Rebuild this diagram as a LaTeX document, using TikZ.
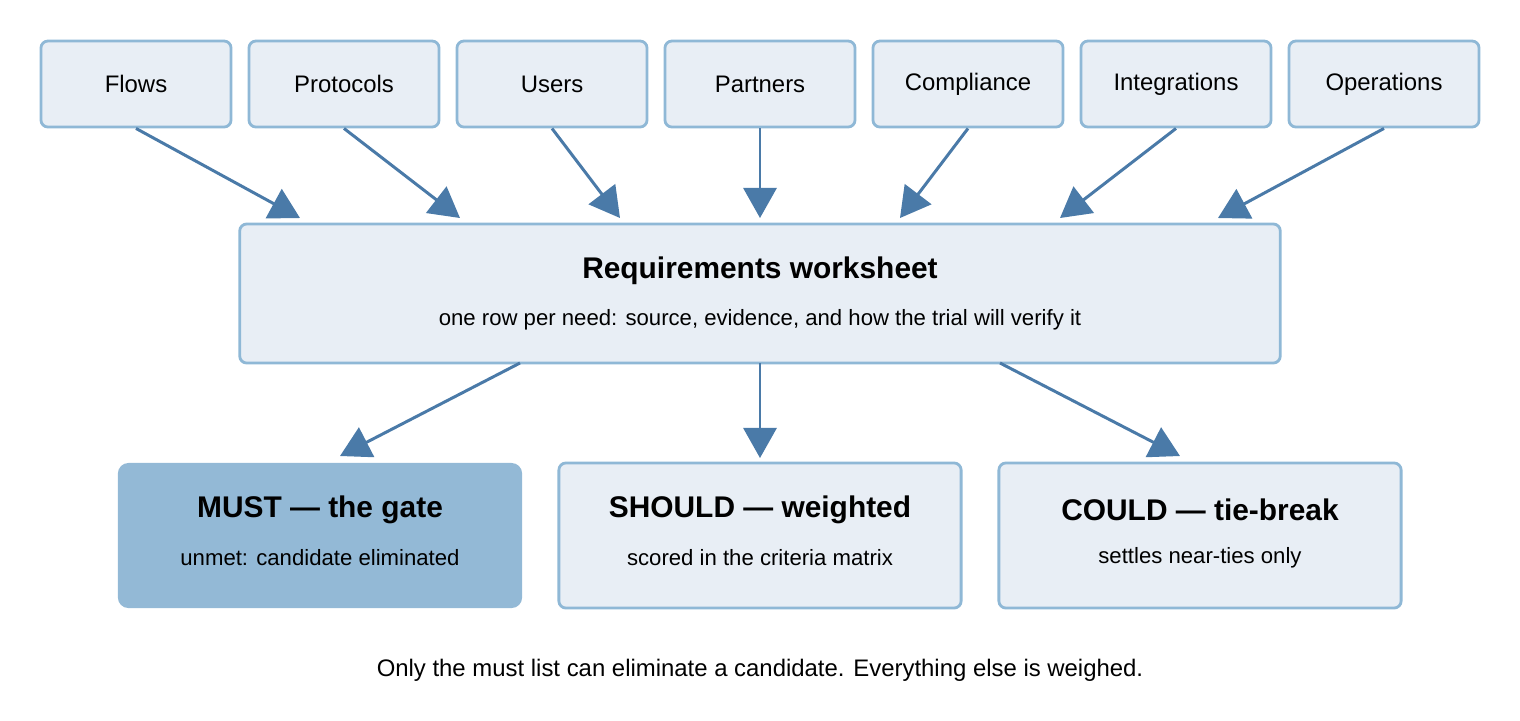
\documentclass[tikz,border=0pt]{standalone}
\usepackage{fontspec}
\setmainfont{Liberation Sans}
\usetikzlibrary{arrows.meta}
\definecolor{boxfill}{HTML}{E8EEF5}
\definecolor{boxline}{HTML}{8FB8D6}
\definecolor{arr}{HTML}{4A7AA8}
\definecolor{mustfill}{HTML}{93B9D6}
\begin{document}
\begin{tikzpicture}[x=0.01cm,y=-0.01cm,
  src/.style={draw=boxline,fill=boxfill,line width=0.8pt,rounded corners=2pt,minimum width=1.9cm,minimum height=0.86cm,inner sep=0pt,font=\fontsize{6.8pt}{8pt}\selectfont},
  big/.style={draw=boxline,fill=boxfill,line width=0.8pt,rounded corners=2pt,inner sep=0pt},
  conn/.style={draw=arr,line width=0.85pt,-{Triangle[length=0.3cm,width=0.33cm]}},
  ttl/.style={font=\fontsize{8.5pt}{10pt}\selectfont\bfseries},
  sub/.style={font=\fontsize{6.3pt}{8pt}\selectfont}]
\path[use as bounding box] (0,0) rectangle (1520,720);
\foreach \n/\x/\t in {a/136/Flows,b/344/Protocols,c/552/Users,d/760/Partners,e/968/Compliance,f/1176/Integrations,g/1384/Operations}
  \node[src] (\n) at (\x,84) {\t};
\node[big,minimum width=10.4cm,minimum height=1.39cm] (w) at (760,293.5) {};
\node[ttl] (wt) at (760,271) {Requirements worksheet};
\node[sub] (ws) at (760,320) {one row per need: source, evidence, and how the trial will verify it};
\foreach \n/\x in {a/300,b/460,c/620,d/760,e/900,f/1060,g/1218}
  {\coordinate (t\n) at (\x,218); \draw[conn] (\n.south) -- (t\n);}
\node[fill=mustfill,rounded corners=3pt,minimum width=4.04cm,minimum height=1.45cm,inner sep=0pt] (m) at (320,535.5) {};
\node[big,minimum width=4.02cm,minimum height=1.45cm] (s) at (760,535.5) {};
\node[big,minimum width=4.02cm,minimum height=1.45cm] (c) at (1200,535.5) {};
\node[ttl] at (320,510) {MUST — the gate};
\node[sub] at (320,558) {unmet: candidate eliminated};
\node[ttl] at (760,510) {SHOULD — weighted};
\node[sub] at (760,558) {scored in the criteria matrix};
\node[ttl] at (1200,510) {COULD — tie-break};
\node[sub] at (1200,558) {settles near-ties only};
\coordinate (w1) at (520,363); \coordinate (w2) at (760,363); \coordinate (w3) at (1000,363);
\coordinate (m1) at (340,456); \coordinate (s1) at (760,458); \coordinate (c1) at (1180,456);
\draw[conn] (w1) -- (m1);
\draw[conn] (w2) -- (s1);
\draw[conn] (w3) -- (c1);
\node[font=\fontsize{6.8pt}{8pt}\selectfont] (cap) at (760,670) {Only the must list can eliminate a candidate. Everything else is weighed.};
\end{tikzpicture}
\end{document}
